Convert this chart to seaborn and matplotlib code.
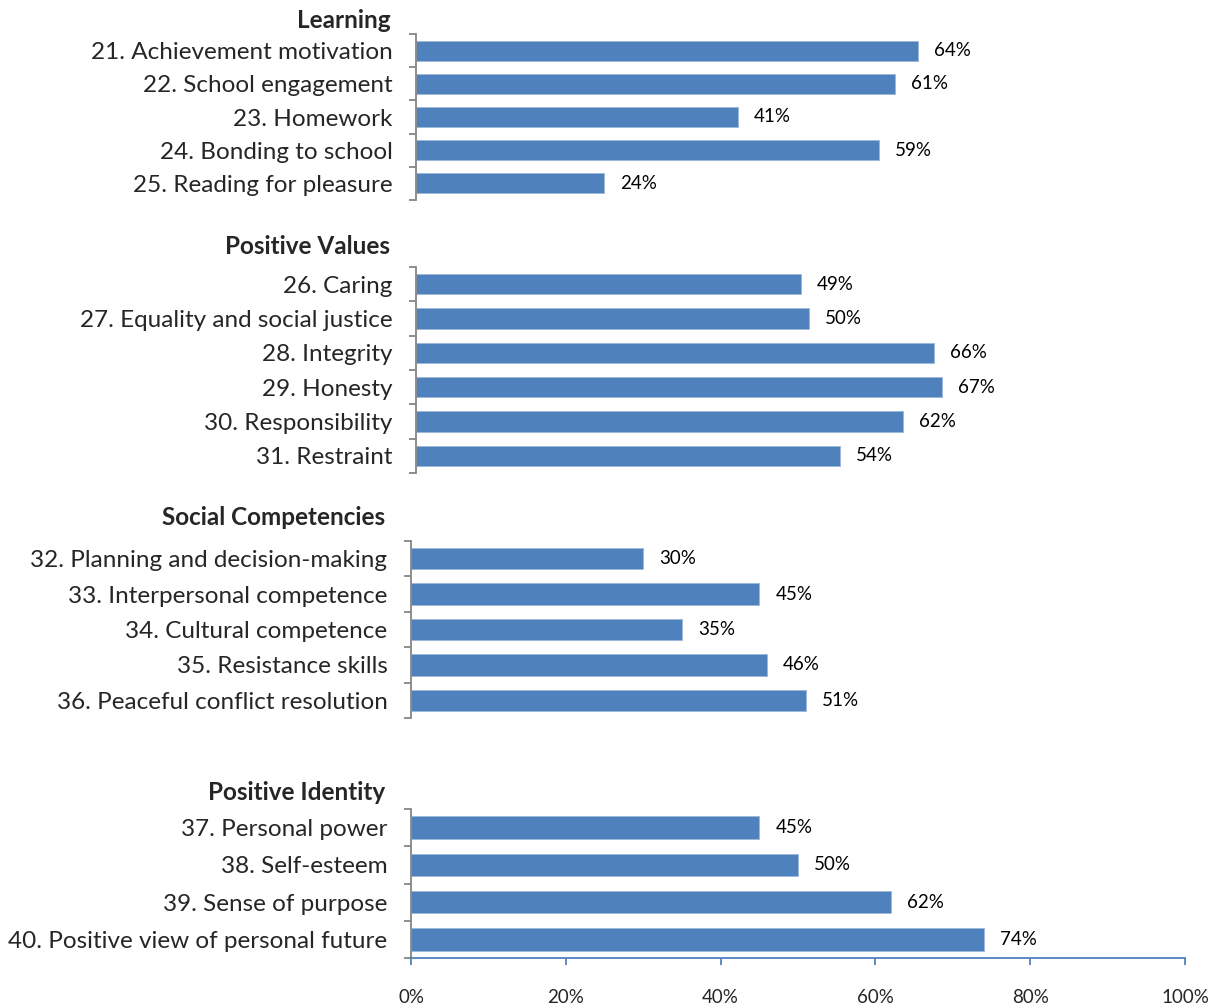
import matplotlib
matplotlib.use("Agg")
import matplotlib.pyplot as plt
import numpy as np
import pandas as pd
import seaborn as sns

# Developmental asset categories and the share of youth reporting each asset (%)
learning_labels = [
    "21. Achievement motivation",
    "22. School engagement",
    "23. Homework",
    "24. Bonding to school",
    "25. Reading for pleasure",
]
learning_values = [64, 61, 41, 59, 24]

values_labels = [
    "26. Caring",
    "27. Equality and social justice",
    "28. Integrity",
    "29. Honesty",
    "30. Responsibility",
    "31. Restraint",
]
values_values = [49, 50, 66, 67, 62, 54]

social_labels = [
    "32. Planning and decision-making",
    "33. Interpersonal competence",
    "34. Cultural competence",
    "35. Resistance skills",
    "36. Peaceful conflict resolution",
]
social_values = [30, 45, 35, 46, 51]

identity_labels = [
    "37. Personal power",
    "38. Self-esteem",
    "39. Sense of purpose",
    "40. Positive view of personal future",
]
identity_values = [45, 50, 62, 74]

group_titles = ["Learning", "Positive Values", "Social Competencies", "Positive Identity"]
x_ticks = [0, 20, 40, 60, 80, 100]
x_tick_labels = ["0%", "20%", "40%", "60%", "80%", "100%"]

BAR = "#4F81BD"
GREY = "#868686"

sns.set_style("white")
plt.rcParams["font.family"] = ["Lato", "DejaVu Sans"]

W, H = 1215, 1005
fig = plt.figure(figsize=(W / 100, H / 100), dpi=100)

# panel boxes in pixels: left, top, width, height; plus title lift in points
boxes = [
    (416, 34, 785, 166, 10),
    (416, 267, 785, 206, 15),
    (411, 541, 774, 177, 17),
    (411, 809, 774, 149, 12),
]
groups = [
    (learning_labels, learning_values),
    (values_labels, values_values),
    (social_labels, social_values),
    (identity_labels, identity_values),
]

for i, ((labels, vals), title, (l, t, w, h, lift)) in enumerate(zip(groups, group_titles, boxes)):
    ax = fig.add_axes([l / W, 1 - (t + h) / H, w / W, h / H])
    df = pd.DataFrame({"asset": labels, "pct": vals})
    sns.barplot(data=df, y="asset", x="pct", orient="h", color=BAR, saturation=1,
                width=0.6, edgecolor="#9DB7DA", linewidth=0.6, ax=ax)
    n = len(labels)
    ax.set_xlim(0, 100)
    ax.set_ylim(n - 0.5, -0.5)
    ax.set_xlabel("")
    ax.set_ylabel("")
    ax.bar_label(ax.containers[0], labels=[f"{v}%" for v in vals],
                 padding=11.5, fontsize=13.5, color="black")

    for s in ("top", "right"):
        ax.spines[s].set_visible(False)
    ax.spines["left"].set_color(GREY)
    ax.spines["left"].set_linewidth(1.3)

    # category labels without marks; short grey ticks at the category boundaries
    ax.tick_params(axis="y", which="major", left=False, length=0, pad=17, labelsize=17.5)
    ax.set_yticks(np.arange(-0.5, n), minor=True)
    ax.tick_params(axis="y", which="minor", left=True, length=5, width=1.3,
                   color=GREY, direction="out")

    if i == len(groups) - 1:
        ax.spines["bottom"].set_color(BAR)
        ax.spines["bottom"].set_linewidth(1.3)
        ax.set_xticks(x_ticks)
        ax.set_xticklabels(x_tick_labels)
        ax.tick_params(axis="x", bottom=True, length=5, width=1.3, color=BAR,
                       direction="out", pad=17, labelsize=13.5)
    else:
        ax.spines["bottom"].set_visible(False)
        ax.set_xticks([])

    ax.annotate(title, xy=(0, 1), xycoords="axes fraction", xytext=(-18.5, lift),
                textcoords="offset points", ha="right", va="center",
                fontsize=17.5, fontweight="bold")

fig.savefig("out.png", dpi=100)
